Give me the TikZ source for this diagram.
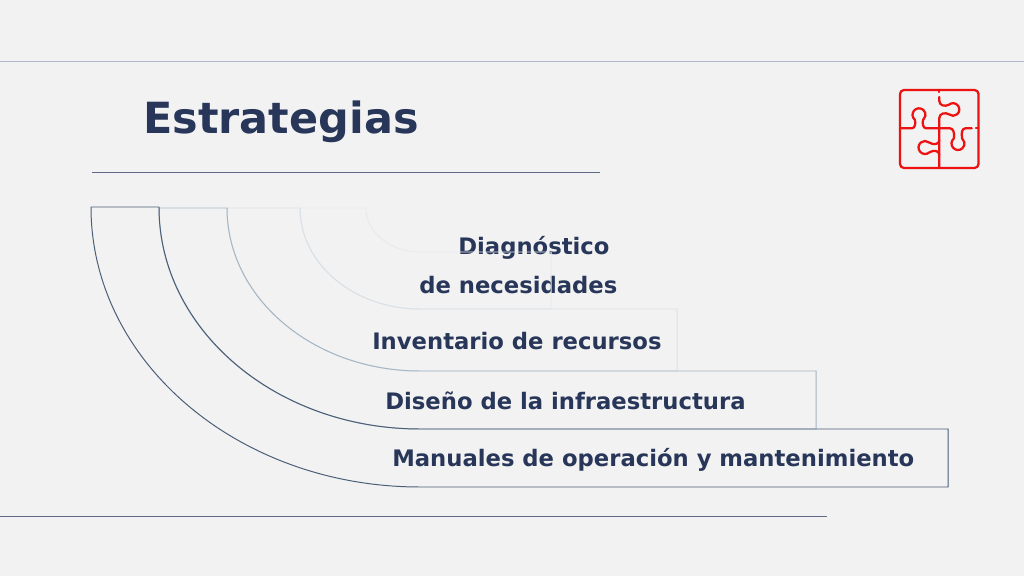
\documentclass[tikz,border=0pt]{standalone}
\usepackage{fontspec}
\setmainfont{DejaVu Sans}
\usetikzlibrary{positioning}
\definecolor{pageback}{HTML}{F2F2F2}
\definecolor{navy}{HTML}{283759}
\definecolor{puzzlered}{HTML}{EE1111}
\definecolor{bandone}{HTML}{4A5E76}
\definecolor{bandtwo}{HTML}{A6B6C4}
\definecolor{bandfour}{HTML}{D9E0E6}
\definecolor{bandfive}{HTML}{E8EBEE}
\definecolor{toprule}{HTML}{B0B8C8}
\definecolor{midrule}{HTML}{5F6B85}

\begin{document}
\begin{tikzpicture}[
  x=0.025cm, y=-0.025cm,
  lbl/.style={anchor=base west, inner sep=0pt, text=navy, font=\fontsize{16.15pt}{18pt}\selectfont\bfseries},
  ttl/.style={anchor=base west, inner sep=0pt, text=navy, font=\fontsize{30.55pt}{34pt}\selectfont\bfseries},
  band/.style={line width=0.7pt},
  rulebar/.style={line width=0.55pt},
  puzzle/.style={draw=puzzlered, line width=1.6pt, line cap=round, line join=round}
]
  \useasboundingbox[fill=pageback] (0,0) rectangle (1024,576);

  % rules
  \draw[rulebar, draw=toprule] (0,61) -- (1024,61);
  \draw[rulebar, draw=midrule] (92,172) -- (600,172);
  \draw[rulebar, draw=midrule] (0,516.5) -- (827,516.5);

  % texts
  \node[ttl] (title) at (143,134) {Estrategias};
  \node[lbl] (diag) at (458,255) {Diagnóstico};
  \node[lbl] (nece) at (419,294) {de necesidades};
  \node[lbl] (inve) at (372,349.5) {Inventario de recursos};
  \node[lbl] (dise) at (385,409.5) {Diseño de la infraestructura};
  \node[lbl] (manu) at (392,466.5) {Manuales de operación y mantenimiento};

  % bands, innermost first
  \draw[band, draw=bandfive] (300,208) arc[start angle=180, end angle=90, x radius=120, y radius=101]
    -- (551,309) -- (551,252) -- (420,252)
    arc[start angle=90, end angle=180, x radius=54, y radius=44] -- cycle;
  \draw[band, draw=bandfour] (227,208) arc[start angle=180, end angle=90, x radius=193, y radius=163]
    -- (677,371) -- (677,309) -- (420,309)
    arc[start angle=90, end angle=180, x radius=120, y radius=101] -- cycle;
  \draw[band, draw=bandtwo] (159,208) arc[start angle=180, end angle=90, x radius=261, y radius=221]
    -- (816,429) -- (816,371) -- (420,371)
    arc[start angle=90, end angle=180, x radius=193, y radius=163] -- cycle;
  \draw[band, draw=bandone] (91,207) arc[start angle=180, end angle=90, x radius=329, y radius=280]
    -- (948,487) -- (948,429) -- (420,429)
    arc[start angle=90, end angle=180, x radius=261, y radius=222] -- cycle;

  % puzzle icon
  \draw[puzzle] (904,90) -- (974.5,90) arc[start angle=270, end angle=360, radius=4]
    -- (978.5,164) arc[start angle=0, end angle=90, radius=4]
    -- (904,168) arc[start angle=90, end angle=180, radius=4]
    -- (900,94) arc[start angle=180, end angle=270, radius=4] -- cycle;
  \draw[puzzle] (900,128.3) -- (912,128.3)
    .. controls (915,128.3) and (916,123) .. (914.82,119.78)
    arc[start angle=130, end angle=410, radius=6.5]
    .. controls (922,123) and (923,128.3) .. (926,128.3)
    -- (950,128.3)
    .. controls (953,128.3) and (955,133) .. (953.82,138.52)
    arc[start angle=230, end angle=-50, radius=6.5]
    .. controls (961,133) and (962,128.3) .. (965.5,128.3)
    -- (971.7,128.3);
  \draw[puzzle] (976,128.3) -- (978.5,128.3);
  \draw[puzzle] (939.3,90) -- (939.3,92);
  \draw[puzzle] (939.3,97) -- (939.3,101)
    .. controls (939.3,105.5) and (945,107) .. (948.95,104.67)
    arc[start angle=230, end angle=490, radius=6.3]
    .. controls (945,112) and (939.3,113.5) .. (939.3,118)
    -- (939.3,168);
  \draw[puzzle] (939.3,155) .. controls (939.3,150) and (933,150) .. (929.18,152.48)
    arc[start angle=50, end angle=310, radius=6.5]
    .. controls (933,145) and (939.3,145) .. (939.3,140);
\end{tikzpicture}
\end{document}
